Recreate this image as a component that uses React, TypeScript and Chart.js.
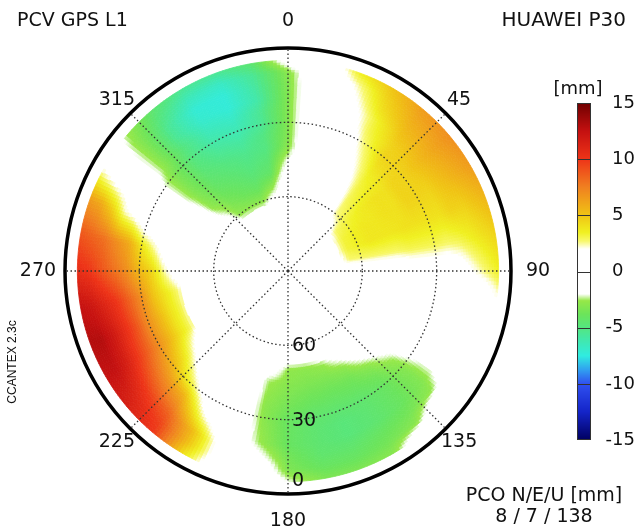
import { useEffect, useRef } from 'react';
import { Chart, registerables } from 'chart.js';

Chart.register(...registerables);

// ---------- data ----------
const AZ_LABELS = ['0', '45', '90', '135', '180', '225', '270', '315'];
// grid nodes: azimuth (deg, clockwise from north) and elevation (deg)
const AZIMUTHS = [0, 10, 20, 30, 40, 50, 60, 70, 80, 90, 100, 110, 120, 130, 140, 150, 160, 170, 180, 190, 200, 210, 220, 230, 240, 250, 260, 270, 280, 290, 300, 310, 320, 330, 340, 350];
const ELEVATIONS = [5, 10, 15, 20, 25, 30, 35, 40, 45, 50, 55, 60, 65, 70];
// PCV values [mm], one array per elevation, one value per azimuth
const pcvEl05 = [-1, 0, 3.5, 5, 6.5, 7, 6.5, 5.5, 4.5, 3.5, 1.5, 0, 0, 0, 0, -3, -3.3, -3.3, -2, 0, 0, 4, 10, 11.5, 12.5, 13, 12.5, 10.5, 9, 6.5, 1.5, -2.5, -4.5, -5.5, -5.5, -4.5];
const pcvEl10 = [-3, 0, 2.2, 4.5, 6, 6.5, 6, 5, 4, 2.8, 0, 0, 0, 0, -3, -3.6, -4, -4, -3.3, 0, 0.5, 5, 9.5, 11, 12.5, 13, 12, 10, 8.5, 6, 0.5, -2.8, -5, -6.5, -6.8, -5.5];
const pcvEl15 = [-3.2, 0, 1.5, 4, 5.5, 6, 5.5, 4.5, 3.5, 2, 0, 0, 0, -2.8, -3.6, -4, -4.4, -4.4, -3.6, -1.5, 0.5, 5, 8.5, 10, 11.5, 12, 11, 9, 8, 4.5, 0, -2.8, -5.5, -7.2, -7.3, -5.8];
const pcvEl20 = [-3.2, 0, 1, 3.2, 5, 5.5, 5, 4.5, 3, 1, 0, 0, -1, -3.2, -4, -4.5, -4.8, -4.5, -4, -2.5, 0, 3, 7, 8.5, 10, 10.5, 10, 8, 7, 2.3, 0, -2.8, -5.5, -7, -7.3, -6];
const pcvEl25 = [-3.2, 0, 0.5, 3, 4.5, 5, 4.5, 4, 2.8, 0.5, 0, 0, -1, -3.2, -4, -4.5, -4.8, -4.5, -4, -2.7, 0, 1, 5.5, 7, 8.5, 9, 8.5, 7, 6, 1.5, 0, -2.8, -5, -6.5, -6.8, -5.5];
const pcvEl30 = [-3.2, 0, 0, 2.5, 4.5, 4.5, 4.5, 4, 3, 0.5, 0, 0, -0.5, -3, -4, -4.4, -4.5, -4.4, -4, -2.9, 0, 0, 3, 5.5, 7, 7, 7, 5.5, 4, 0, -1, -3.2, -5, -6, -6.3, -5.5];
const pcvEl35 = [-3.2, 0, 0, 2, 4, 4.5, 4.5, 4, 3, 0.5, 0, 0, 0, -2.5, -3.6, -4, -4.1, -4, -3.6, -2.9, 0, 0, 1.5, 4, 5.5, 5.5, 5, 4.5, 2.5, 0, -1, -3.2, -4.8, -5.5, -5.8, -5];
const pcvEl40 = [-3, 0, 0, 1.5, 3.5, 4, 4, 4, 3, 0.5, 0, 0, 0, -1.5, -2.9, -3.6, -3.7, -3.6, -3.3, -2.7, 0, 0, 0, 2.3, 4, 4, 3.8, 2.5, 1, 0, -1, -3.2, -4.5, -5, -5.3, -5];
const pcvEl45 = [-2, 0, 0, 1, 3.2, 4, 4, 3.8, 2.8, 0, 0, 0, 0, 0, -1.5, -2.9, -3.2, -3.2, -3, -2.5, 0, 0, 0, 0.5, 2.8, 2.9, 2.7, 1, 0, 0, -0.5, -3, -4.2, -4.6, -5, -4.6];
const pcvEl50 = [-1, 0, 0, 0.5, 3, 3.8, 3.8, 3.8, 2.8, 0, 0, 0, 0, 0, 0, -1.5, -2.6, -2.9, -2.8, -1, 0, 0, 0, 0, 0, 0, 0, 0, 0, 0, 0, -2.8, -3.8, -4.2, -4.6, -4.2];
const pcvEl55 = [0, 0, 0, 0, 2.8, 3.5, 3.8, 3.8, 2.8, 0, 0, 0, 0, 0, 0, 0, -0.5, -1, -1, 0, 0, 0, 0, 0, 0, 0, 0, 0, 0, 0, 0, -2, -3.3, -3.8, -4, -3];
const pcvEl60 = [0, 0, 0, 0, 2.5, 3.2, 3.5, 3.5, 2.8, 0, 0, 0, 0, 0, 0, 0, 0, 0, 0, 0, 0, 0, 0, 0, 0, 0, 0, 0, 0, 0, 0, -1, -2.8, -3, -3, -1.5];
const pcvEl65 = [0, 0, 0, 0, 1, 2.8, 3.2, 3.2, 2.7, 0, 0, 0, 0, 0, 0, 0, 0, 0, 0, 0, 0, 0, 0, 0, 0, 0, 0, 0, 0, 0, 0, 0, -1, -1, -1, 0];
const pcvEl70 = [0, 0, 0, 0, 0, 1, 1.5, 1.5, 1, 0, 0, 0, 0, 0, 0, 0, 0, 0, 0, 0, 0, 0, 0, 0, 0, 0, 0, 0, 0, 0, 0, 0, 0, 0, 0, 0];
const PCV_ROWS = [pcvEl05, pcvEl10, pcvEl15, pcvEl20, pcvEl25, pcvEl30, pcvEl35, pcvEl40, pcvEl45, pcvEl50, pcvEl55, pcvEl60, pcvEl65, pcvEl70];

const ELEV_TICK_LABELS = [60, 30, 0];
const COLORBAR_TICKS = [15, 10, 5, 0, -5, -10, -15];
const TITLE_LEFT = 'PCV GPS L1';
const TITLE_RIGHT = 'HUAWEI P30';
const PCO_TITLE = 'PCO N/E/U [mm]';
const PCO_VALUES = [8, 7, 138];
const UNIT_LABEL = '[mm]';
const SOFTWARE_LABEL = 'CCANTEX 2.3c';

// ---------- colour map ----------
type RGB = [number, number, number];
const CMAP: [number, RGB][] = [
  [-15, [0, 0, 96]],
  [-12.5, [20, 36, 200]],
  [-10, [48, 80, 240]],
  [-8.75, [48, 160, 240]],
  [-7.5, [48, 236, 224]],
  [-6.2, [64, 232, 176]],
  [-5, [84, 230, 128]],
  [-3.8, [108, 228, 90]],
  [-2.6, [150, 232, 72]],
  [-2.0, [255, 255, 255]],
  [2.0, [255, 255, 255]],
  [2.7, [248, 248, 110]],
  [3.5, [240, 240, 32]],
  [5, [240, 196, 20]],
  [7.5, [240, 128, 32]],
  [10, [238, 52, 24]],
  [12.5, [196, 16, 16]],
  [15, [112, 0, 0]],
];
function colorFor(v: number): string {
  if (v <= CMAP[0][0]) return `rgb(${CMAP[0][1].join(',')})`;
  for (let i = 1; i < CMAP.length; i++) {
    if (v <= CMAP[i][0]) {
      const [v0, c0] = CMAP[i - 1];
      const [v1, c1] = CMAP[i];
      const t = (v - v0) / (v1 - v0);
      const c = c0.map((x, k) => Math.round(x + (c1[k] - x) * t));
      return `rgb(${c.join(',')})`;
    }
  }
  return `rgb(${CMAP[CMAP.length - 1][1].join(',')})`;
}

const FONT = '"DejaVu Sans", Verdana, sans-serif';
const TEXT = '#111';

function polarPos(scale: any, az: number, el: number) {
  const index = az / (360 / AZ_LABELS.length);
  return scale.getPointPosition(index, scale.getDistanceFromCenterForValue(90 - el));
}

const heatmapPlugin = {
  id: 'pcvHeatmap',
  beforeDraw(chart: any) {
    const scale = chart.scales.r;
    const ctx = chart.ctx as CanvasRenderingContext2D;
    const nAz = AZIMUTHS.length;
    const SUB_A = 10;
    const SUB_E = 5;
    ctx.save();
    ctx.lineWidth = 0.8;
    ctx.lineJoin = 'round';
    for (let j = 0; j < ELEVATIONS.length - 1; j++) {
      const e0 = ELEVATIONS[j];
      const e1 = ELEVATIONS[j + 1];
      for (let i = 0; i < nAz; i++) {
        const a0 = AZIMUTHS[i];
        const a1 = i + 1 < nAz ? AZIMUTHS[i + 1] : 360;
        const ii = (i + 1) % nAz;
        const v00 = PCV_ROWS[j][i];
        const v10 = PCV_ROWS[j][ii];
        const v01 = PCV_ROWS[j + 1][i];
        const v11 = PCV_ROWS[j + 1][ii];
        for (let k = 0; k < SUB_A; k++) {
          for (let m = 0; m < SUB_E; m++) {
            const fa = (k + 0.5) / SUB_A;
            const fe = (m + 0.5) / SUB_E;
            const v = v00 * (1 - fa) * (1 - fe) + v10 * fa * (1 - fe) + v01 * (1 - fa) * fe + v11 * fa * fe;
            if (Math.abs(v) < 2.0) continue;
            const aL = a0 + ((a1 - a0) * k) / SUB_A;
            const aR = a0 + ((a1 - a0) * (k + 1)) / SUB_A;
            const eL = e0 + ((e1 - e0) * m) / SUB_E;
            const eH = e0 + ((e1 - e0) * (m + 1)) / SUB_E;
            const p1 = polarPos(scale, aL, eL);
            const p2 = polarPos(scale, aR, eL);
            const p3 = polarPos(scale, aR, eH);
            const p4 = polarPos(scale, aL, eH);
            const col = colorFor(v);
            ctx.fillStyle = col;
            ctx.strokeStyle = col;
            ctx.beginPath();
            ctx.moveTo(p1.x, p1.y);
            ctx.lineTo(p2.x, p2.y);
            ctx.lineTo(p3.x, p3.y);
            ctx.lineTo(p4.x, p4.y);
            ctx.closePath();
            ctx.fill();
            ctx.stroke();
          }
        }
      }
    }
    ctx.restore();
  },
  afterDraw(chart: any) {
    const scale = chart.scales.r;
    const ctx = chart.ctx as CanvasRenderingContext2D;
    const outer = scale.getDistanceFromCenterForValue(90);
    ctx.save();
    ctx.fillStyle = TEXT;
    ctx.textAlign = 'center';
    ctx.textBaseline = 'middle';
    ctx.font = `19px ${FONT}`;
    // azimuth labels
    AZ_LABELS.forEach((lab, i) => {
      const off = i % 2 === 0 ? 27 : 19;
      const p = scale.getPointPosition(i, outer + off);
      ctx.fillText(lab, p.x, p.y);
    });
    // elevation labels along the south spoke
    ctx.textAlign = 'left';
    ELEV_TICK_LABELS.forEach((el) => {
      const p = scale.getPointPosition(4, scale.getDistanceFromCenterForValue(90 - el));
      ctx.fillText(String(el), p.x + 4, el === 0 ? p.y - 13 : p.y + 1);
    });
    // titles
    ctx.textAlign = 'left';
    ctx.fillText(TITLE_LEFT, 17, 21);
    ctx.textAlign = 'right';
    ctx.font = `20px ${FONT}`;
    ctx.fillText(TITLE_RIGHT, 626, 21);
    ctx.textAlign = 'center';
    ctx.font = `19px ${FONT}`;
    ctx.fillText(PCO_TITLE, 544, 496);
    ctx.fillText(PCO_VALUES.join(' / '), 544, 517);

    // colour bar
    const cbLeft = 577;
    const cbW = 14;
    const cbTop = 103;
    const cbBot = 440;
    const vMax = COLORBAR_TICKS[0];
    const vMin = COLORBAR_TICKS[COLORBAR_TICKS.length - 1];
    const yOf = (v: number) => cbTop + ((vMax - v) / (vMax - vMin)) * (cbBot - cbTop);
    for (let y = cbTop; y < cbBot; y++) {
      const v = vMax - ((y + 0.5 - cbTop) / (cbBot - cbTop)) * (vMax - vMin);
      ctx.fillStyle = colorFor(v);
      ctx.fillRect(cbLeft, y, cbW, 1);
    }
    ctx.strokeStyle = '#333';
    ctx.lineWidth = 1;
    ctx.strokeRect(cbLeft + 0.5, cbTop + 0.5, cbW - 1, cbBot - cbTop - 1);
    ctx.font = `18px ${FONT}`;
    ctx.fillStyle = TEXT;
    ctx.textAlign = 'left';
    const digitX = 612;
    COLORBAR_TICKS.forEach((t) => {
      const y = yOf(t);
      if (t !== vMax && t !== vMin) {
        ctx.beginPath();
        ctx.moveTo(cbLeft, Math.round(y) + 0.5);
        ctx.lineTo(cbLeft + cbW, Math.round(y) + 0.5);
        ctx.stroke();
      }
      const s = String(t);
      const x = t < 0 ? digitX - ctx.measureText('-').width : digitX;
      ctx.fillText(s, x, y);
    });
    ctx.textAlign = 'center';
    ctx.fillText(UNIT_LABEL, 578, 89);

    // software tag, rotated
    ctx.save();
    ctx.translate(13, 362);
    ctx.rotate(-Math.PI / 2);
    ctx.font = `12px "Liberation Sans", Arial, sans-serif`;
    ctx.textAlign = 'center';
    ctx.fillText(SOFTWARE_LABEL, 0, 0);
    ctx.restore();
    ctx.restore();
  },
};

export default function App() {
  const ref = useRef<HTMLCanvasElement>(null);
  useEffect(() => {
    if (!ref.current) return;
    const chart = new Chart(ref.current, {
      type: 'radar',
      data: { labels: AZ_LABELS, datasets: [] },
      options: {
        responsive: false,
        animation: false,
        layout: { padding: { left: 65, right: 129, top: 48, bottom: 34 } },
        plugins: { legend: { display: false }, tooltip: { enabled: false } },
        scales: {
          r: {
            min: 0,
            max: 90,
            ticks: { display: false, stepSize: 30 },
            pointLabels: { display: false },
            grid: {
              circular: true,
              color: (c: any) => (c.tick && c.tick.value === 90 ? '#000' : '#333'),
              lineWidth: (c: any) => (c.tick && c.tick.value === 90 ? 3.5 : 1.3),
            },
            border: {
              dash: (c: any) => (c.tick && c.tick.value === 90 ? [] : [1.5, 2.5]),
            },
            angleLines: { color: '#333', lineWidth: 1.3, borderDash: [1.5, 2.5] },
          },
        },
      } as any,
      plugins: [heatmapPlugin],
    });
    return () => chart.destroy();
  }, []);
  return (
    <div style={{ position: 'absolute', left: 0, top: 0, width: 640, height: 528, background: '#fff' }}>
      <canvas ref={ref} width={640} height={528} style={{ display: 'block', width: 640, height: 528 }} />
    </div>
  );
}
